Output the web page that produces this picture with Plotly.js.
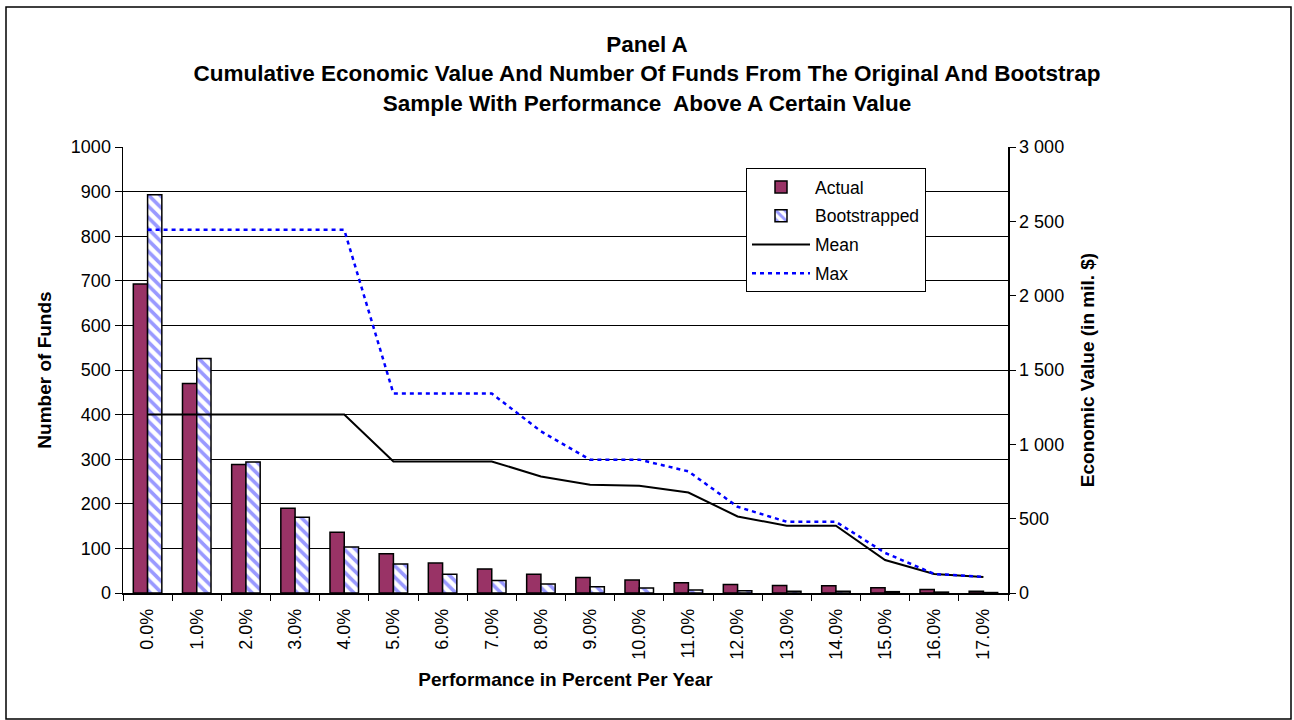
<!DOCTYPE html>
<html>
<head>
<meta charset="utf-8">
<script src="https://cdn.plot.ly/plotly-3.0.1.min.js"></script>
<style>
  html, body { margin: 0; padding: 0; background: #fff; }
  #chart { width: 1294px; height: 720px; }
</style>
</head>
<body>
<div id="chart"></div>
<script>
const categories = ['0.0%','1.0%','2.0%','3.0%','4.0%','5.0%','6.0%','7.0%','8.0%','9.0%',
                    '10.0%','11.0%','12.0%','13.0%','14.0%','15.0%','16.0%','17.0%'];
const actualFunds = [693, 470, 288, 190, 136, 88, 67, 54, 42, 35, 29, 23, 19, 17, 16, 12, 8, 4];
const bootFunds   = [893, 526, 294, 170, 103, 65, 42, 28, 20, 14, 11, 7, 5, 4, 4, 3, 2, 1];
const meanValue   = [1200, 1200, 1200, 1200, 1200, 885, 885, 885, 784, 728, 721, 676, 515, 452, 452, 222, 128, 108];
const maxValue    = [2443, 2443, 2443, 2443, 2443, 1342, 1342, 1342, 1088, 897, 897, 818, 580, 479, 479, 270, 128, 108];

const FONT = 'Arial, "Liberation Sans", sans-serif';

const traces = [
  {
    type: 'bar', name: 'Actual', x: categories, y: actualFunds, legendgroup: 'g1',
    marker: { color: '#993366', line: { color: '#000', width: 1.5 } }
  },
  {
    type: 'bar', name: 'Bootstrapped', x: categories, y: bootFunds, legendgroup: 'g2',
    marker: {
      color: '#ffffff',
      pattern: { shape: '\\', fgcolor: '#9999ff', bgcolor: '#ffffff', size: 8, solidity: 0.45 },
      line: { color: '#000', width: 1.5 }
    }
  },
  {
    type: 'scatter', mode: 'lines', name: 'Mean', x: categories, y: meanValue, yaxis: 'y2', legendgroup: 'g3',
    line: { color: '#000', width: 2 }
  },
  {
    type: 'scatter', mode: 'lines', name: 'Max', x: categories, y: maxValue, yaxis: 'y2', legendgroup: 'g4',
    line: { color: '#0000ff', width: 2.5, dash: '4px,4px' }
  }
];

const L = 123, R = 1008, T = 147, B = 593, W = 1294, H = 720;
const pw = R - L, ph = B - T;
const px = v => (v - L) / pw;
const py = v => (B - v) / ph;

const layout = {
  width: W, height: H,
  margin: { l: L, r: W - R, t: T, b: H - B, pad: 0 },
  paper_bgcolor: '#fff', plot_bgcolor: '#fff',
  font: { family: FONT, size: 18, color: '#000' },
  separators: '. ',
  barmode: 'group', bargap: 0.42, bargroupgap: 0,
  showlegend: true,
  title: {
    text: '<b>Panel A<br>Cumulative Economic Value And Number Of Funds From The Original And Bootstrap<br>Sample With Performance  Above A Certain Value</b>',
    font: { family: FONT, size: 22.5, color: '#000' },
    x: 0.5, xref: 'container', xanchor: 'center',
    y: 1 - 52 / H, yref: 'container', yanchor: 'top'
  },
  xaxis: {
    type: 'category',
    showline: true, linecolor: '#000', linewidth: 1.5,
    ticks: 'outside', ticklen: 6, tickcolor: '#000', tickson: 'boundaries',
    tickangle: -90, tickfont: { size: 18 }, ticklabelstandoff: 7,
    showgrid: false, zeroline: false,
    title: { text: '<b>Performance in Percent Per Year</b>', font: { size: 19 }, standoff: 14 }
  },
  yaxis: {
    range: [0, 1000], dtick: 100, tick0: 0,
    showline: true, linecolor: '#000', linewidth: 1.5,
    ticks: 'outside', ticklen: 7, tickcolor: '#000',
    showgrid: true, gridcolor: '#000', gridwidth: 1, zeroline: false,
    tickfont: { size: 18 },
    title: { text: '<b>Number of Funds</b>', font: { size: 19 }, standoff: 14 }
  },
  yaxis2: {
    overlaying: 'y', side: 'right',
    range: [0, 3000], dtick: 500, tick0: 0,
    separatethousands: true, tickformat: ',d',
    showline: true, linecolor: '#000', linewidth: 1.5,
    ticks: 'outside', ticklen: 6, tickcolor: '#000',
    showgrid: false, zeroline: false,
    tickfont: { size: 18 },
    title: { text: '<b>Economic Value (in mil. $)</b>', font: { size: 19 }, standoff: 17 }
  },
  legend: {
    x: px(746), y: py(168), xanchor: 'left', yanchor: 'top',
    bgcolor: '#fff', bordercolor: '#000', borderwidth: 1,
    font: { family: FONT, size: 17.5, color: '#000' },
    traceorder: 'grouped', tracegroupgap: 3, itemwidth: 58
  },
  shapes: [
    {
      type: 'rect', xref: 'paper', yref: 'paper',
      x0: px(6), x1: px(1291), y0: py(719), y1: py(7),
      line: { color: '#000', width: 1.5 }, fillcolor: 'rgba(0,0,0,0)', layer: 'below'
    }
  ]
};

Plotly.newPlot('chart', traces, layout, { displayModeBar: false, staticPlot: true });
</script>
</body>
</html>
